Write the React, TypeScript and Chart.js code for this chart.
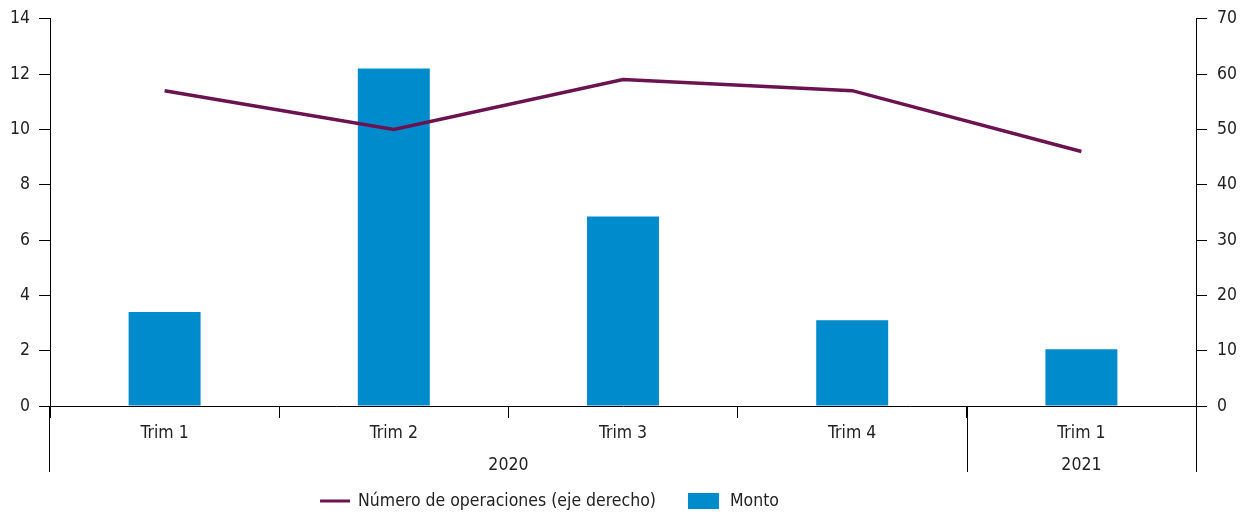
import React, { useEffect, useRef } from "react";
import { Chart, registerables } from "chart.js";

Chart.register(...registerables);

const categories = ["Trim 1", "Trim 2", "Trim 3", "Trim 4", "Trim 1"];
const montoValues = [3.4, 12.2, 6.85, 3.1, 2.05];
const operacionesValues = [57, 50, 59, 57, 46];
const yearLabels = ["2020", "2021"];
const yearSpans = [4, 1];
const leftTicks = [0, 2, 4, 6, 8, 10, 12, 14];
const rightTicks = [0, 10, 20, 30, 40, 50, 60, 70];

const FONT = "'DejaVu Sans Condensed', 'Roboto', sans-serif";
const BAR_COLOR = "#008BCD";
const LINE_COLOR = "#6B1350";
const TEXT_COLOR = "#222222";
const FONT_SIZE = 17.5;

const groupsPlugin = {
  id: "groups",
  afterDraw(chart: any) {
    const ctx = chart.ctx;
    const xs = chart.scales.x;
    const area = chart.chartArea;
    const bottom = xs.top + 66;
    ctx.save();
    ctx.strokeStyle = "#000";
    ctx.lineWidth = 1;
    const vline = (x: number) => {
      ctx.beginPath();
      ctx.moveTo(Math.round(x) + 0.5, xs.top);
      ctx.lineTo(Math.round(x) + 0.5, bottom);
      ctx.stroke();
    };
    vline(area.left - 1);
    vline(area.right);
    let idx = 0;
    ctx.fillStyle = TEXT_COLOR;
    ctx.font = `${FONT_SIZE}px ${FONT}`;
    ctx.textAlign = "center";
    ctx.textBaseline = "middle";
    yearLabels.forEach((lab, g) => {
      const start = idx;
      const end = idx + yearSpans[g] - 1;
      const half = (xs.getPixelForValue(1) - xs.getPixelForValue(0)) / 2;
      const left = xs.getPixelForValue(start) - half;
      const right = xs.getPixelForValue(end) + half;
      if (g < yearLabels.length - 1) vline(right);
      ctx.fillText(lab, (left + right) / 2, xs.top + 59);
      idx = end + 1;
    });
    // legend
    const ly = chart.height - 15;
    ctx.textAlign = "left";
    const t1 = "Número de operaciones (eje derecho)";
    const t2 = "Monto";
    const w1 = ctx.measureText(t1).width;
    const w2 = ctx.measureText(t2).width;
    const total = 30 + 8 + w1 + 32 + 31 + 11 + w2;
    let x = chart.width / 2 - total / 2 - 73;
    ctx.strokeStyle = LINE_COLOR;
    ctx.lineWidth = 3;
    ctx.beginPath();
    ctx.moveTo(x, ly);
    ctx.lineTo(x + 30, ly);
    ctx.stroke();
    x += 38;
    ctx.fillText(t1, x, ly);
    x += w1 + 32;
    ctx.fillStyle = BAR_COLOR;
    ctx.fillRect(x, ly - 8, 31, 16);
    x += 42;
    ctx.fillStyle = TEXT_COLOR;
    ctx.fillText(t2, x, ly);
    ctx.restore();
  },
};

export default function App() {
  const ref = useRef<HTMLCanvasElement>(null);
  useEffect(() => {
    document.body.style.margin = "0";
    const chart = new Chart(ref.current!, {
      type: "bar",
      data: {
        labels: categories,
        datasets: [
          {
            type: "line",
            label: "Número de operaciones (eje derecho)",
            data: operacionesValues,
            borderColor: LINE_COLOR,
            backgroundColor: LINE_COLOR,
            borderWidth: 3.5,
            pointRadius: 0,
            tension: 0,
            yAxisID: "y1",
            order: 0,
          },
          {
            type: "bar",
            label: "Monto",
            data: montoValues,
            backgroundColor: BAR_COLOR,
            barPercentage: 0.314,
            categoryPercentage: 1,
            yAxisID: "y",
            order: 1,
          },
        ],
      },
      plugins: [groupsPlugin],
      options: {
        animation: false,
        responsive: false,
        maintainAspectRatio: false,
        layout: { padding: { top: 5, bottom: 38, left: 0, right: 0 } },
        plugins: { legend: { display: false }, tooltip: { enabled: false } },
        scales: {
          x: {
            grid: {
              offset: true,
              drawOnChartArea: false,
              tickLength: 12,
              color: "#000",
            },
            border: { color: "#000" },
            ticks: {
              color: TEXT_COLOR,
              font: { family: FONT, size: FONT_SIZE },
              padding: 5,
              maxRotation: 0,
            },
            afterFit: (s: any) => {
              s.height = 72;
            },
          },
          y: {
            position: "left",
            min: 0,
            max: 14,
            afterBuildTicks: (s: any) => {
              s.ticks = leftTicks.map((v) => ({ value: v }));
            },
            grid: { drawOnChartArea: false, tickLength: 11, color: "#000" },
            border: { color: "#000" },
            ticks: {
              color: TEXT_COLOR,
              font: { family: FONT, size: FONT_SIZE, lineHeight: 1 },
              padding: 9,
            },
            afterFit: (s: any) => {
              s.width = 50;
            },
          },
          y1: {
            position: "right",
            min: 0,
            max: 70,
            afterBuildTicks: (s: any) => {
              s.ticks = rightTicks.map((v) => ({ value: v }));
            },
            grid: { drawOnChartArea: false, tickLength: 11, color: "#000" },
            border: { color: "#000" },
            ticks: {
              color: TEXT_COLOR,
              font: { family: FONT, size: FONT_SIZE, lineHeight: 1 },
              padding: 10,
            },
            afterFit: (s: any) => {
              s.width = 49;
            },
          },
        },
      },
    } as any);
    return () => chart.destroy();
  }, []);
  return (
    <div style={{ width: 1245, height: 516 }}>
      <canvas ref={ref} width={1245} height={516} style={{ width: 1245, height: 516, display: "block" }} />
    </div>
  );
}
